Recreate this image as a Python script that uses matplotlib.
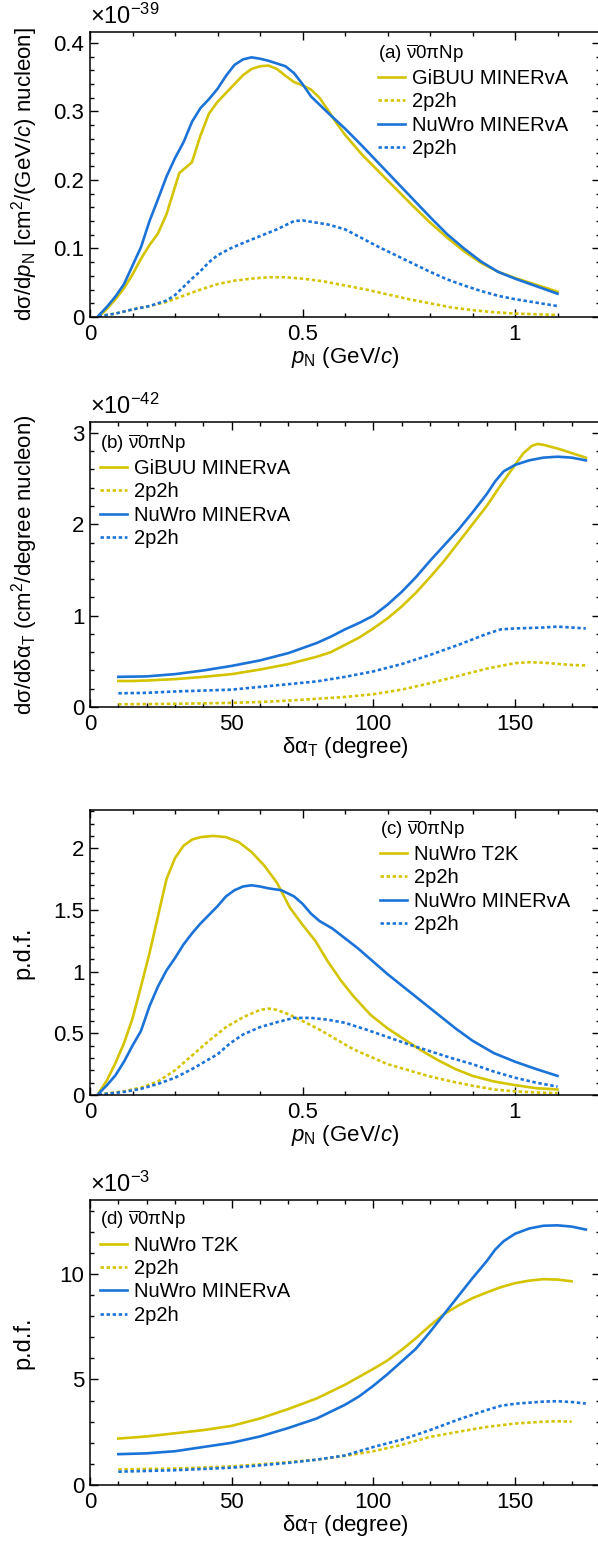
import numpy as np
import matplotlib
matplotlib.use("Agg")
import matplotlib.pyplot as plt
from matplotlib.ticker import MultipleLocator

plt.rcParams['font.family'] = ['Liberation Sans', 'DejaVu Sans']
plt.rcParams['mathtext.fontset'] = 'custom'
plt.rcParams['mathtext.rm'] = 'Liberation Sans'
plt.rcParams['mathtext.it'] = 'Liberation Sans:italic'
plt.rcParams['mathtext.bf'] = 'Liberation Sans:bold'

YELLOW = '#d4c400'
BLUE = '#1b73d8'

# ---- (a) d sigma / d p_N  (units of 1e-39)
pa_gibuu_x = [0.02, 0.04, 0.06, 0.08, 0.10, 0.12, 0.14, 0.16, 0.18, 0.20, 0.21, 0.225, 0.24, 0.26,
              0.28, 0.30, 0.32, 0.34, 0.36, 0.38, 0.40, 0.42, 0.44, 0.46, 0.48, 0.50, 0.52, 0.54,
              0.56, 0.58, 0.60, 0.64, 0.68, 0.72, 0.76, 0.80, 0.84, 0.88, 0.92, 0.96, 1.0, 1.05, 1.1]
pa_gibuu_y = [0.0, 0.012, 0.026, 0.042, 0.062, 0.085, 0.105, 0.122, 0.15, 0.19, 0.21, 0.218, 0.226,
              0.265, 0.297, 0.314, 0.327, 0.340, 0.353, 0.362, 0.366, 0.367, 0.362, 0.352, 0.343,
              0.338, 0.332, 0.32, 0.302, 0.283, 0.266, 0.237, 0.212, 0.187, 0.162, 0.138, 0.116,
              0.096, 0.079, 0.066, 0.057, 0.047, 0.037]
pa_nuwro_x = [0.02, 0.04, 0.06, 0.08, 0.10, 0.12, 0.14, 0.16, 0.18, 0.20, 0.22, 0.24, 0.26, 0.28,
              0.30, 0.32, 0.34, 0.36, 0.38, 0.40, 0.42, 0.44, 0.46, 0.48, 0.50, 0.52, 0.54, 0.56,
              0.60, 0.64, 0.68, 0.72, 0.76, 0.80, 0.84, 0.88, 0.92, 0.96, 1.0, 1.05, 1.1]
pa_nuwro_y = [0.002, 0.015, 0.03, 0.048, 0.075, 0.102, 0.14, 0.172, 0.205, 0.232, 0.255, 0.285,
              0.305, 0.318, 0.333, 0.352, 0.368, 0.376, 0.379, 0.377, 0.374, 0.370, 0.366, 0.356,
              0.34, 0.322, 0.31, 0.298, 0.275, 0.25, 0.224, 0.198, 0.172, 0.146, 0.121, 0.1,
              0.081, 0.066, 0.056, 0.045, 0.034]
pa_gibuu2_x = [0.02, 0.06, 0.10, 0.14, 0.18, 0.22, 0.26, 0.30, 0.34, 0.38, 0.42, 0.46, 0.50, 0.55,
               0.60, 0.65, 0.70, 0.75, 0.80, 0.85, 0.90, 0.95, 1.0, 1.05, 1.1]
pa_gibuu2_y = [0.001, 0.005, 0.011, 0.016, 0.022, 0.031, 0.04, 0.048, 0.053, 0.056, 0.058, 0.058,
               0.056, 0.052, 0.046, 0.04, 0.033, 0.026, 0.02, 0.014, 0.01, 0.007, 0.005, 0.004, 0.003]
pa_nuwro2_x = [0.02, 0.06, 0.10, 0.14, 0.18, 0.20, 0.22, 0.24, 0.26, 0.28, 0.30, 0.33, 0.36, 0.40,
               0.44, 0.48, 0.50, 0.53, 0.56, 0.60, 0.64, 0.68, 0.72, 0.76, 0.80, 0.84, 0.88, 0.92,
               0.96, 1.0, 1.05, 1.1]
pa_nuwro2_y = [0.001, 0.005, 0.011, 0.016, 0.024, 0.032, 0.044, 0.056, 0.067, 0.08, 0.09, 0.1,
               0.108, 0.118, 0.128, 0.14, 0.141, 0.138, 0.135, 0.128, 0.115, 0.102, 0.09, 0.078,
               0.066, 0.055, 0.046, 0.038, 0.031, 0.026, 0.021, 0.016]

# ---- (b) d sigma / d delta alpha_T  (units of 1e-42)
pb_gibuu_x = [10, 15, 20, 30, 40, 50, 60, 70, 80, 85, 90, 95, 100, 105, 110, 115, 120, 125, 130,
              135, 140, 145, 150, 153, 156, 158, 160, 165, 170, 175]
pb_gibuu = [0.285, 0.285, 0.29, 0.305, 0.33, 0.36, 0.41, 0.47, 0.55, 0.6, 0.68, 0.76, 0.86, 0.97,
            1.1, 1.25, 1.42, 1.6, 1.8, 2.0, 2.2, 2.43, 2.65, 2.78, 2.86, 2.88, 2.87, 2.83, 2.78, 2.73]
pb_nuwro_x = [10, 20, 30, 40, 50, 60, 70, 80, 85, 90, 95, 100, 105, 110, 115, 120, 125, 130, 135,
              140, 143, 146, 150, 155, 160, 165, 170, 175]
pb_nuwro = [0.33, 0.335, 0.36, 0.40, 0.45, 0.51, 0.59, 0.70, 0.77, 0.85, 0.92, 1.0, 1.12, 1.26,
            1.42, 1.6, 1.77, 1.94, 2.13, 2.33, 2.47, 2.58, 2.65, 2.70, 2.73, 2.74, 2.73, 2.70]
pb_nuwro2_x = [10, 20, 30, 40, 50, 60, 70, 80, 90, 100, 110, 120, 130, 140, 145, 150, 160, 165,
               170, 175]
pb_nuwro2 = [0.15, 0.155, 0.17, 0.18, 0.19, 0.22, 0.25, 0.28, 0.33, 0.39, 0.47, 0.57, 0.68, 0.80,
             0.85, 0.86, 0.87, 0.88, 0.87, 0.86]
pb_gibuu2_x = [10, 30, 50, 60, 70, 80, 90, 100, 110, 120, 130, 140, 150, 155, 160, 170, 175]
pb_gibuu2 = [0.03, 0.035, 0.045, 0.055, 0.07, 0.09, 0.11, 0.14, 0.19, 0.26, 0.34, 0.42, 0.48,
             0.49, 0.485, 0.46, 0.455]

# ---- (c) p.d.f. of p_N
pc_t2k_x = [0.02, 0.04, 0.06, 0.08, 0.10, 0.12, 0.14, 0.16, 0.18, 0.20, 0.22, 0.24, 0.26, 0.29,
            0.32, 0.35, 0.38, 0.41, 0.44, 0.47, 0.50, 0.53, 0.56, 0.59, 0.62, 0.66, 0.70, 0.74,
            0.78, 0.82, 0.86, 0.90, 0.95, 1.0, 1.05, 1.1]
pc_t2k_y = [0.014, 0.12, 0.26, 0.42, 0.62, 0.88, 1.15, 1.45, 1.75, 1.92, 2.02, 2.07, 2.09, 2.10,
            2.09, 2.05, 1.97, 1.86, 1.72, 1.52, 1.38, 1.25, 1.08, 0.93, 0.80, 0.65, 0.54, 0.45,
            0.36, 0.28, 0.21, 0.155, 0.11, 0.08, 0.055, 0.045]
pc_min_x = [0.02, 0.04, 0.06, 0.08, 0.10, 0.12, 0.14, 0.16, 0.18, 0.20, 0.22, 0.24, 0.26, 0.28,
            0.30, 0.32, 0.34, 0.36, 0.38, 0.40, 0.42, 0.45, 0.48, 0.50, 0.52, 0.54, 0.57, 0.60,
            0.63, 0.66, 0.70, 0.74, 0.78, 0.82, 0.86, 0.90, 0.95, 1.0, 1.05, 1.1]
pc_min_y = [0.01, 0.08, 0.16, 0.27, 0.40, 0.52, 0.72, 0.88, 1.01, 1.11, 1.22, 1.31, 1.39, 1.46,
            1.53, 1.61, 1.66, 1.69, 1.70, 1.69, 1.675, 1.66, 1.61, 1.55, 1.47, 1.41, 1.35, 1.27,
            1.19, 1.10, 0.98, 0.87, 0.76, 0.65, 0.54, 0.44, 0.34, 0.27, 0.21, 0.155]
pc_t2k2_x = [0.02, 0.08, 0.12, 0.16, 0.20, 0.24, 0.28, 0.32, 0.36, 0.40, 0.42, 0.44, 0.47, 0.50,
             0.54, 0.58, 0.62, 0.66, 0.70, 0.75, 0.80, 0.85, 0.90, 0.95, 1.0, 1.05, 1.1]
pc_t2k2_y = [0.005, 0.03, 0.06, 0.11, 0.2, 0.32, 0.44, 0.55, 0.63, 0.69, 0.70, 0.69, 0.65, 0.6,
             0.53, 0.45, 0.37, 0.31, 0.25, 0.2, 0.15, 0.11, 0.075, 0.045, 0.03, 0.02, 0.015]
pc_min2_x = [0.02, 0.08, 0.12, 0.16, 0.20, 0.24, 0.28, 0.30, 0.33, 0.36, 0.40, 0.44, 0.48, 0.52,
             0.56, 0.60, 0.65, 0.70, 0.75, 0.80, 0.85, 0.90, 0.95, 1.0, 1.05, 1.1]
pc_min2_y = [0.003, 0.025, 0.05, 0.09, 0.14, 0.21, 0.29, 0.33, 0.42, 0.49, 0.55, 0.59, 0.625,
             0.625, 0.61, 0.585, 0.53, 0.47, 0.41, 0.355, 0.3, 0.25, 0.19, 0.14, 0.1, 0.068]

# ---- (d) p.d.f. of delta alpha_T  (units of 1e-3)
pd_t2k_x = [10, 20, 30, 40, 50, 60, 70, 80, 90, 100, 105, 110, 115, 120, 125, 130, 135, 140, 145,
            150, 155, 160, 165, 170]
pd_t2k = [2.2, 2.3, 2.45, 2.6, 2.8, 3.15, 3.6, 4.1, 4.75, 5.5, 5.9, 6.4, 6.95, 7.55, 8.1, 8.5,
          8.85, 9.12, 9.37, 9.56, 9.68, 9.75, 9.73, 9.65]
pd_min_x = [10, 20, 30, 40, 50, 60, 70, 80, 90, 95, 100, 105, 110, 115, 120, 125, 130, 135, 140,
            143, 146, 150, 155, 160, 165, 170, 175]
pd_min = [1.46, 1.5, 1.6, 1.8, 2.0, 2.3, 2.7, 3.15, 3.8, 4.2, 4.7, 5.25, 5.85, 6.45, 7.25, 8.1,
          8.95, 9.8, 10.6, 11.15, 11.55, 11.9, 12.15, 12.28, 12.3, 12.24, 12.1]
pd_t2k2_x = [10, 30, 50, 60, 70, 80, 90, 100, 110, 120, 130, 140, 150, 160, 165, 170]
pd_t2k2 = [0.74, 0.78, 0.88, 0.98, 1.08, 1.2, 1.38, 1.6, 1.9, 2.28, 2.52, 2.75, 2.91, 3.0, 3.02, 3.0]
pd_min2_x = [10, 30, 50, 60, 70, 80, 90, 100, 110, 120, 130, 140, 145, 150, 160, 165, 170, 175]
pd_min2 = [0.63, 0.7, 0.82, 0.93, 1.05, 1.2, 1.4, 1.8, 2.15, 2.6, 3.1, 3.55, 3.75, 3.85, 3.95,
           3.97, 3.93, 3.86]

TICK_FS = 16
LABEL_FS = 16
LEG_FS = 14.5

fig = plt.figure(figsize=(5.98, 15.52), dpi=100)
left = 90 / 598
width = 510 / 598
height = 285 / 1552
bottoms = [1 - 317 / 1552, 1 - 707 / 1552, 1 - 1095 / 1552, 1 - 1485 / 1552]
axes = [fig.add_axes([left, b, width, height]) for b in bottoms]

DOT = (0, (1.3, 1.0))
LW = 1.9


def style_axis(ax, xmax, xmaj, xmin, ymax, ymaj, ymin):
    ax.set_xlim(0, xmax)
    ax.set_ylim(0, ymax)
    ax.xaxis.set_major_locator(MultipleLocator(xmaj))
    ax.xaxis.set_minor_locator(MultipleLocator(xmin))
    ax.yaxis.set_major_locator(MultipleLocator(ymaj))
    ax.yaxis.set_minor_locator(MultipleLocator(ymin))
    ax.tick_params(which='both', direction='in', top=True, right=True, width=1.0)
    ax.tick_params(which='major', length=5.5)
    ax.tick_params(which='minor', length=2.8)
    ax.tick_params(axis='x', labelsize=TICK_FS, pad=5)
    ax.tick_params(axis='y', labelsize=TICK_FS, pad=4)
    for s in ax.spines.values():
        s.set_linewidth(1.1)
    ax.xaxis.set_major_formatter(plt.FuncFormatter(lambda v, p: f'{v:g}'))
    ax.yaxis.set_major_formatter(plt.FuncFormatter(lambda v, p: f'{v:g}'))


def add_legend(ax, header, names, xa, ya):
    handles = []
    for name, col, ls in zip(names, [YELLOW, YELLOW, BLUE, BLUE], ['-', DOT, '-', DOT]):
        h, = ax.plot([], [], color=col, ls=ls, lw=LW, label=name)
        handles.append(h)
    ax.legend(handles=handles, title=header, loc='upper left', bbox_to_anchor=(xa, ya),
              frameon=False, fontsize=LEG_FS, title_fontsize=LEG_FS - 1, alignment='left',
              handlelength=1.35, handletextpad=0.35, labelspacing=0.22, borderpad=0,
              borderaxespad=0)


PN_LABEL = r'$p_{\rm N}$ (GeV/$c$)'
DAT_LABEL = r'δα$_{\rm T}$ (degree)'
NUBAR = r'$\overline{\mathrm{\nu}}$0πNp'

# (a)
ax = axes[0]
ax.plot(pa_gibuu_x, pa_gibuu_y, color=YELLOW, lw=LW)
ax.plot(pa_gibuu2_x, pa_gibuu2_y, color=YELLOW, lw=LW, ls=DOT)
ax.plot(pa_nuwro_x, pa_nuwro_y, color=BLUE, lw=LW)
ax.plot(pa_nuwro2_x, pa_nuwro2_y, color=BLUE, lw=LW, ls=DOT)
style_axis(ax, 1.2, 0.5, 0.1, 0.416, 0.1, 0.02)
ax.set_xlabel(PN_LABEL, fontsize=LABEL_FS)
ax.set_ylabel(r'dσ/d$p_{\rm N}$ [cm$^{2}$/(GeV/$c$) nucleon]', fontsize=16)
ax.text(0, 1.01, r'×10$^{-39}$', transform=ax.transAxes, fontsize=17, ha='left', va='bottom')
add_legend(ax, '(a) ' + NUBAR, ['GiBUU MINERvA', '2p2h', 'NuWro MINERvA', '2p2h'], 0.565, 0.965)

# (b)
ax = axes[1]
ax.plot(pb_gibuu_x, pb_gibuu, color=YELLOW, lw=LW)
ax.plot(pb_gibuu2_x, pb_gibuu2, color=YELLOW, lw=LW, ls=DOT)
ax.plot(pb_nuwro_x, pb_nuwro, color=BLUE, lw=LW)
ax.plot(pb_nuwro2_x, pb_nuwro2, color=BLUE, lw=LW, ls=DOT)
style_axis(ax, 180, 50, 10, 3.12, 1, 0.2)
ax.set_xlabel(DAT_LABEL, fontsize=LABEL_FS)
ax.set_ylabel(r'dσ/dδα$_{\rm T}$ (cm$^{2}$/degree nucleon)', fontsize=16)
ax.text(0, 1.01, r'×10$^{-42}$', transform=ax.transAxes, fontsize=17, ha='left', va='bottom')
add_legend(ax, '(b) ' + NUBAR, ['GiBUU MINERvA', '2p2h', 'NuWro MINERvA', '2p2h'], 0.02, 0.965)

# (c)
ax = axes[2]
ax.plot(pc_t2k_x, pc_t2k_y, color=YELLOW, lw=LW)
ax.plot(pc_t2k2_x, pc_t2k2_y, color=YELLOW, lw=LW, ls=DOT)
ax.plot(pc_min_x, pc_min_y, color=BLUE, lw=LW)
ax.plot(pc_min2_x, pc_min2_y, color=BLUE, lw=LW, ls=DOT)
style_axis(ax, 1.2, 0.5, 0.1, 2.31, 0.5, 0.1)
ax.set_xlabel(PN_LABEL, fontsize=LABEL_FS)
ax.set_ylabel('p.d.f.', fontsize=17)
add_legend(ax, '(c) ' + NUBAR, ['NuWro T2K', '2p2h', 'NuWro MINERvA', '2p2h'], 0.569, 0.972)

# (d)
ax = axes[3]
ax.plot(pd_t2k_x, pd_t2k, color=YELLOW, lw=LW)
ax.plot(pd_t2k2_x, pd_t2k2, color=YELLOW, lw=LW, ls=DOT)
ax.plot(pd_min_x, pd_min, color=BLUE, lw=LW)
ax.plot(pd_min2_x, pd_min2, color=BLUE, lw=LW, ls=DOT)
style_axis(ax, 180, 50, 10, 13.5, 5, 1)
ax.set_xlabel(DAT_LABEL, fontsize=LABEL_FS)
ax.set_ylabel('p.d.f.', fontsize=17)
ax.text(0, 1.01, r'×10$^{-3}$', transform=ax.transAxes, fontsize=17, ha='left', va='bottom')
add_legend(ax, '(d) ' + NUBAR, ['NuWro T2K', '2p2h', 'NuWro MINERvA', '2p2h'], 0.02, 0.97)

for i, ax in enumerate(axes):
    ax.xaxis.set_label_coords(0.5, -0.1)
    ax.yaxis.set_label_coords(-0.098 if i < 2 else -0.108, 0.5)

fig.savefig('out.png', dpi=100)
